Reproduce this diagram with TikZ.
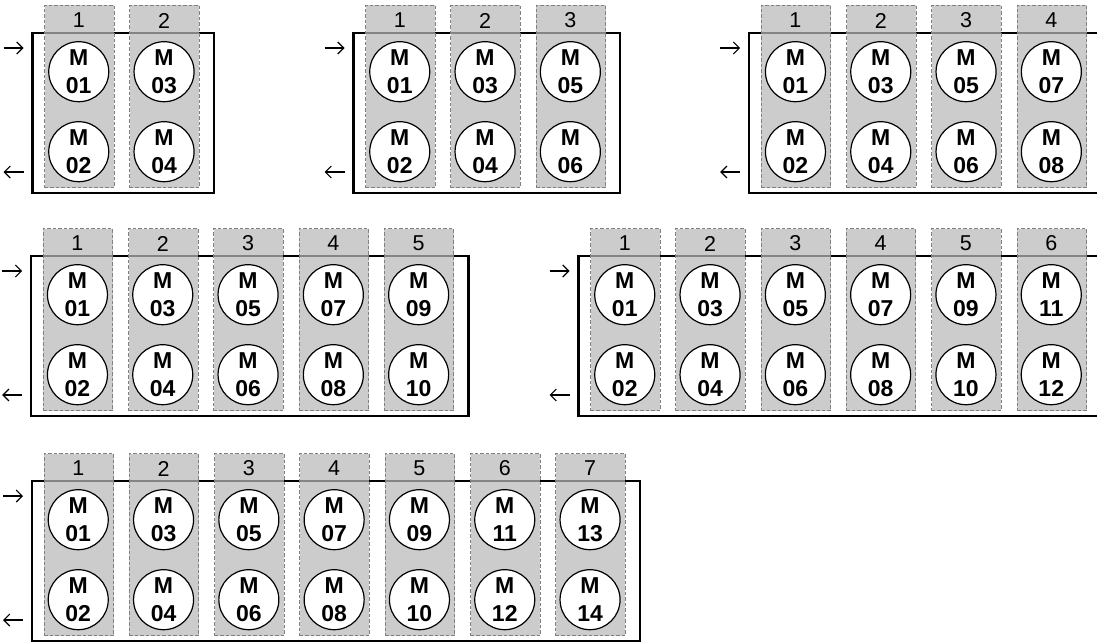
\documentclass[tikz,border=0pt]{standalone}
\usepackage{fontspec}
\setmainfont{Liberation Sans}
\usetikzlibrary{arrows.meta}
\definecolor{lanefill}{gray}{0.72}
\definecolor{laneedge}{gray}{0.5}
\newcommand\twodig[1]{\ifnum#1<10 0\fi#1}
\tikzset{
  frame/.style={draw=black, line width=2.3pt},
  lane/.style={rectangle, fill=lanefill, fill opacity=0.72, draw=laneedge,
    draw opacity=1, dash pattern=on 3.5pt off 2pt, line width=1pt,
    minimum width=69.5pt, minimum height=182pt, inner sep=0pt, anchor=north west},
  lanenum/.style={font=\fontsize{21.5}{21.5}\selectfont, inner sep=0pt},
  motor/.style={circle, draw=black, fill=white, line width=1.2pt,
    minimum size=60pt, inner sep=0pt, align=center,
    font=\fontsize{23}{28.5}\selectfont\bfseries},
  flow/.style={line width=1.1pt, -{Straight Barb[length=6pt,width=12pt,line width=1.1pt]}}
}
\begin{document}
\begin{tikzpicture}[x=1pt,y=-1pt]
\useasboundingbox (0,0) rectangle (1097,642);
% each loop pass: first lane x, row offset, lane count, name prefix
\foreach \L/\o/\n/\d in {44/0/2/a, 365/0/3/b, 760.7/0/4/c, 42.7/223/5/d, 590/223/6/e, 43.5/448/7/f}{
  \pgfmathsetmacro{\bl}{\L-11.5}
  \pgfmathsetmacro{\br}{\L+(\n-1)*85.3+69.5+15}
  \pgfmathsetmacro{\bt}{33+\o}
  \pgfmathsetmacro{\bb}{193+\o}
  % outer frame
  \draw[frame] (\bl,\bt) rectangle (\br,\bb);
  % in / out arrows
  \coordinate (\d-in0) at (\bl-29,\bt+15);
  \coordinate (\d-in1) at (\bl-9,\bt+15);
  \coordinate (\d-out0) at (\bl-9,\bb-21);
  \coordinate (\d-out1) at (\bl-29,\bb-21);
  \draw[flow] (\d-in0) -- (\d-in1);
  \draw[flow] (\d-out0) -- (\d-out1);
  % lanes with their motors
  \foreach \i in {1,...,\n}{
    \pgfmathsetmacro{\xl}{\L+(\i-1)*85.3}
    \pgfmathsetmacro{\xc}{\xl+34.75}
    \pgfmathtruncatemacro{\ma}{2*\i-1}
    \pgfmathtruncatemacro{\mb}{2*\i}
    \node[lane] (\d-l\i) at (\xl,5+\o) {};
    \node[lanenum] (\d-n\i) at (\xc,20.5+\o) {\i};
    \node[motor] (\d-m\ma) at (\xc,71.7+\o) {M\\\twodig{\ma}};
    \node[motor] (\d-m\mb) at (\xc,151.7+\o) {M\\\twodig{\mb}};
  }
}
\end{tikzpicture}
\end{document}
